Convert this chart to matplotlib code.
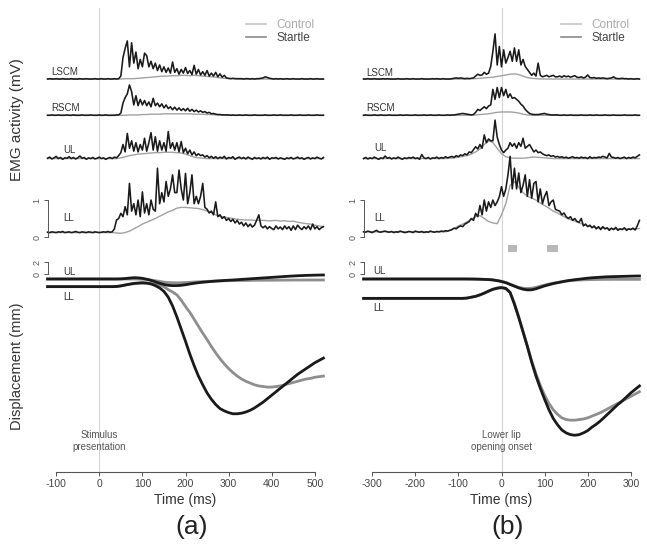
import numpy as np
import matplotlib.pyplot as plt
from matplotlib.lines import Line2D
from matplotlib.patches import Rectangle

plt.rcParams['font.family'] = ['Liberation Sans', 'DejaVu Sans']
plt.rcParams['axes.unicode_minus'] = False

# ---------------- time grids (ms) ----------------
t_emg_a = np.arange(-120, 521, 5)      # startle EMG, panel (a)
t_ctl_a = np.arange(-120, 521, 10)     # control EMG + displacement, panel (a)
t_emg_b = np.arange(-320, 321, 5)
t_ctl_b = np.arange(-320, 321, 10)

# ---------------- EMG (mV), panel (a): aligned to stimulus ----------------
lscm_startle_a = [
    0.02, 0.03, 0.02, 0.02, 0.03, 0.02, 0.02, 0.03, 0.02, 0.02,
    0.02, 0.03, 0.02, 0.02, 0.02, 0.03, 0.02, 0.02, 0.03, 0.02,
    0.02, 0.02, 0.03, 0.02, 0.02, 0.03, 0.02, 0.02, 0.03, 0.02,
    0.02, 0.03, 0.02, 0.03, 0.10, 0.60, 0.85, 1.05, 0.35, 1.00,
    0.45, 0.75, 0.30, 0.55, 0.35, 0.72, 0.65, 0.35, 0.50, 0.30,
    0.45, 0.25, 0.40, 0.22, 0.35, 0.20, 0.32, 0.18, 0.48, 0.20,
    0.30, 0.15, 0.28, 0.18, 0.33, 0.17, 0.25, 0.14, 0.39, 0.15,
    0.28, 0.13, 0.22, 0.12, 0.25, 0.10, 0.18, 0.10, 0.20, 0.08,
    0.16, 0.07, 0.12, 0.05, 0.04, 0.03, 0.04, 0.03, 0.03, 0.03,
    0.03, 0.02, 0.03, 0.03, 0.02, 0.03, 0.02, 0.03, 0.03, 0.04,
    0.05, 0.08, 0.06, 0.04, 0.03, 0.02, 0.03, 0.02, 0.03, 0.02,
    0.02, 0.03, 0.02, 0.02, 0.03, 0.02, 0.02, 0.02, 0.03, 0.02,
    0.02, 0.02, 0.03, 0.02, 0.02, 0.03, 0.02, 0.02, 0.02]
lscm_control_a = [
    0.02, 0.02, 0.02, 0.02, 0.02, 0.02, 0.02, 0.02, 0.02, 0.02,
    0.02, 0.02, 0.02, 0.02, 0.02, 0.02, 0.02, 0.02, 0.03, 0.03,
    0.03, 0.04, 0.05, 0.06, 0.07, 0.08, 0.09, 0.10, 0.10, 0.11,
    0.11, 0.12, 0.12, 0.11, 0.12, 0.11, 0.10, 0.09, 0.08, 0.07,
    0.05, 0.04, 0.03, 0.03, 0.02, 0.02, 0.02, 0.02, 0.02, 0.02,
    0.02, 0.02, 0.02, 0.02, 0.02, 0.02, 0.02, 0.02, 0.02, 0.02,
    0.02, 0.02, 0.02, 0.02, 0.02]
rscm_startle_a = [
    0.02, 0.02, 0.03, 0.02, 0.02, 0.03, 0.02, 0.02, 0.02, 0.03,
    0.02, 0.02, 0.03, 0.02, 0.02, 0.02, 0.03, 0.02, 0.02, 0.02,
    0.03, 0.02, 0.02, 0.02, 0.03, 0.02, 0.02, 0.03, 0.02, 0.02,
    0.02, 0.02, 0.03, 0.03, 0.08, 0.35, 0.50, 0.60, 0.84, 0.66,
    0.30, 0.55, 0.28, 0.45, 0.30, 0.42, 0.28, 0.38, 0.25, 0.48,
    0.28, 0.35, 0.25, 0.33, 0.22, 0.30, 0.20, 0.25, 0.17, 0.24,
    0.16, 0.22, 0.15, 0.20, 0.14, 0.21, 0.13, 0.18, 0.12, 0.16,
    0.11, 0.14, 0.10, 0.12, 0.08, 0.10, 0.06, 0.07, 0.05, 0.04,
    0.04, 0.03, 0.03, 0.03, 0.03, 0.02, 0.03, 0.02, 0.02, 0.03,
    0.02, 0.02, 0.03, 0.02, 0.02, 0.02, 0.03, 0.02, 0.02, 0.02,
    0.02, 0.03, 0.02, 0.02, 0.02, 0.03, 0.02, 0.02, 0.03, 0.02,
    0.02, 0.02, 0.02, 0.03, 0.02, 0.02, 0.02, 0.03, 0.02, 0.02,
    0.02, 0.03, 0.02, 0.02, 0.02, 0.03, 0.02, 0.02, 0.02]
rscm_control_a = [
    0.02, 0.02, 0.02, 0.02, 0.02, 0.02, 0.02, 0.02, 0.02, 0.02,
    0.02, 0.02, 0.02, 0.02, 0.02, 0.02, 0.02, 0.02, 0.02, 0.03,
    0.03, 0.03, 0.04, 0.04, 0.05, 0.05, 0.05, 0.06, 0.06, 0.06,
    0.06, 0.06, 0.06, 0.06, 0.05, 0.05, 0.05, 0.04, 0.04, 0.03,
    0.03, 0.03, 0.02, 0.02, 0.02, 0.02, 0.02, 0.02, 0.02, 0.02,
    0.02, 0.02, 0.02, 0.02, 0.02, 0.02, 0.02, 0.02, 0.02, 0.02,
    0.02, 0.02, 0.02, 0.02, 0.02]
ul_startle_a = [
    0.03, 0.06, 0.01, 0.04, 0.08, 0.02, 0.05, 0.00, 0.04, 0.03,
    0.07, 0.02, 0.05, 0.01, 0.04, 0.09, 0.03, 0.05, 0.00, 0.04,
    0.02, 0.05, 0.01, 0.03, 0.06, 0.02, 0.04, 0.00, 0.03, 0.05,
    0.02, 0.06, 0.04, 0.10, 0.18, 0.40, 0.20, 0.70, 0.30, 0.50,
    0.22, 0.45, 0.20, 0.40, 0.25, 0.57, 0.22, 0.45, 0.72, 0.25,
    0.61, 0.22, 0.50, 0.25, 0.45, 0.22, 0.75, 0.30, 0.45, 0.25,
    0.45, 0.20, 0.48, 0.18, 0.30, 0.15, 0.25, 0.12, 0.20, 0.10,
    0.15, 0.10, 0.12, 0.06, 0.10, 0.04, 0.08, 0.03, 0.07, 0.02,
    0.06, 0.03, 0.08, 0.01, 0.05, 0.03, 0.07, 0.00, 0.04, 0.06,
    0.02, 0.05, 0.01, 0.06, 0.03, 0.00, 0.05, 0.02, 0.04, 0.01,
    0.05, 0.02, 0.06, 0.00, 0.04, 0.03, 0.05, 0.01, 0.04, 0.02,
    0.00, 0.04, 0.02, 0.05, 0.01, 0.03, 0.06, 0.02, 0.04, 0.00,
    0.03, 0.05, 0.01, 0.04, 0.02, 0.06, 0.03, 0.01, 0.05]
ul_control_a = [
    0.02, 0.02, 0.02, 0.02, 0.02, 0.02, 0.02, 0.02, 0.02, 0.02,
    0.02, 0.02, 0.02, 0.02, 0.02, 0.02, 0.02, 0.04, 0.07, 0.10,
    0.12, 0.14, 0.15, 0.16, 0.17, 0.18, 0.18, 0.19, 0.19, 0.19,
    0.18, 0.17, 0.14, 0.10, 0.06, 0.04, 0.03, 0.02, 0.02, 0.02,
    0.02, 0.02, 0.02, 0.02, 0.02, 0.02, 0.02, 0.02, 0.02, 0.02,
    0.02, 0.02, 0.02, 0.02, 0.02, 0.02, 0.02, 0.02, 0.02, 0.02,
    0.02, 0.02, 0.02, 0.02, 0.02]
ll_startle_a = [
    0.13, 0.12, 0.14, 0.13, 0.12, 0.14, 0.13, 0.15, 0.12, 0.13,
    0.14, 0.12, 0.13, 0.15, 0.13, 0.12, 0.14, 0.13, 0.12, 0.14,
    0.13, 0.12, 0.14, 0.13, 0.12, 0.13, 0.14, 0.13, 0.15, 0.13,
    0.14, 0.22, 0.46, 0.50, 0.64, 0.55, 0.82, 0.60, 1.45, 0.70,
    0.90, 0.60, 1.00, 0.55, 1.22, 0.65, 0.90, 0.60, 1.00, 0.75,
    0.70, 1.86, 0.90, 1.20, 0.95, 1.50, 1.10, 1.30, 1.68, 1.20,
    1.20, 1.81, 1.30, 1.00, 1.72, 0.90, 1.20, 1.68, 0.90, 1.10,
    0.90, 1.10, 1.45, 0.80, 0.75, 0.65, 0.70, 0.60, 0.95, 0.55,
    0.60, 0.50, 0.55, 0.45, 0.50, 0.42, 0.48, 0.38, 0.45, 0.35,
    0.40, 0.30, 0.38, 0.28, 0.35, 0.27, 0.32, 0.45, 0.60, 0.30,
    0.25, 0.30, 0.22, 0.28, 0.23, 0.20, 0.30, 0.22, 0.27, 0.20,
    0.30, 0.22, 0.28, 0.18, 0.30, 0.20, 0.32, 0.25, 0.20, 0.28,
    0.22, 0.30, 0.20, 0.35, 0.22, 0.28, 0.20, 0.25, 0.28]
ll_control_a = [
    0.12, 0.12, 0.12, 0.12, 0.12, 0.12, 0.12, 0.12, 0.12, 0.12,
    0.12, 0.12, 0.12, 0.12, 0.12, 0.12, 0.11, 0.10, 0.12, 0.16,
    0.22, 0.28, 0.35, 0.40, 0.45, 0.50, 0.56, 0.62, 0.68, 0.72,
    0.78, 0.80, 0.80, 0.79, 0.78, 0.77, 0.74, 0.70, 0.66, 0.60,
    0.56, 0.54, 0.52, 0.50, 0.48, 0.47, 0.46, 0.46, 0.45, 0.45,
    0.45, 0.44, 0.44, 0.45, 0.43, 0.44, 0.42, 0.43, 0.40, 0.38,
    0.36, 0.35, 0.32, 0.30, 0.28]

# ---------------- EMG (mV), panel (b): aligned to lower lip opening ----------------
lscm_startle_b = [
    0.02, 0.02, 0.03, 0.02, 0.02, 0.03, 0.02, 0.02, 0.02, 0.03,
    0.02, 0.03, 0.02, 0.02, 0.02, 0.02, 0.03, 0.02, 0.02, 0.02,
    0.03, 0.02, 0.02, 0.03, 0.02, 0.02, 0.02, 0.03, 0.02, 0.02,
    0.02, 0.02, 0.03, 0.02, 0.03, 0.02, 0.02, 0.03, 0.02, 0.02,
    0.02, 0.03, 0.04, 0.05, 0.04, 0.05, 0.04, 0.03, 0.04, 0.03,
    0.04, 0.05, 0.10, 0.15, 0.12, 0.13, 0.20, 0.15, 0.18, 0.36,
    0.77, 1.24, 0.40, 0.90, 0.35, 0.81, 0.45, 0.60, 0.77, 0.50,
    0.86, 0.50, 0.81, 0.40, 0.55, 0.36, 0.28, 0.20, 0.12, 0.18,
    0.10, 0.45, 0.12, 0.08, 0.10, 0.12, 0.08, 0.10, 0.12, 0.08,
    0.08, 0.10, 0.07, 0.11, 0.08, 0.10, 0.07, 0.09, 0.11, 0.07,
    0.06, 0.08, 0.05, 0.07, 0.13, 0.06, 0.05, 0.06, 0.04, 0.05,
    0.04, 0.05, 0.04, 0.03, 0.04, 0.05, 0.08, 0.04, 0.03, 0.03,
    0.04, 0.03, 0.03, 0.02, 0.03, 0.02, 0.02, 0.03, 0.02]
lscm_control_b = [
    0.02, 0.02, 0.02, 0.02, 0.02, 0.02, 0.02, 0.02, 0.02, 0.02,
    0.02, 0.02, 0.02, 0.02, 0.02, 0.02, 0.02, 0.02, 0.02, 0.02,
    0.02, 0.02, 0.02, 0.02, 0.02, 0.03, 0.03, 0.04, 0.05, 0.06,
    0.07, 0.09, 0.11, 0.13, 0.15, 0.16, 0.14, 0.10, 0.06, 0.04,
    0.03, 0.02, 0.02, 0.02, 0.02, 0.02, 0.02, 0.02, 0.02, 0.02,
    0.02, 0.02, 0.02, 0.02, 0.02, 0.02, 0.02, 0.02, 0.02, 0.02,
    0.02, 0.02, 0.02, 0.02, 0.02]
rscm_startle_b = [
    0.02, 0.03, 0.02, 0.02, 0.02, 0.03, 0.02, 0.02, 0.03, 0.02,
    0.02, 0.02, 0.03, 0.02, 0.02, 0.02, 0.02, 0.03, 0.02, 0.02,
    0.03, 0.02, 0.02, 0.02, 0.03, 0.02, 0.02, 0.02, 0.03, 0.02,
    0.02, 0.03, 0.02, 0.02, 0.02, 0.03, 0.02, 0.02, 0.02, 0.03,
    0.02, 0.03, 0.03, 0.04, 0.05, 0.06, 0.07, 0.06, 0.05, 0.04,
    0.03, 0.04, 0.10, 0.18, 0.15, 0.20, 0.25, 0.20, 0.27, 0.30,
    0.72, 0.45, 0.77, 0.50, 0.77, 0.55, 0.72, 0.50, 0.60, 0.48,
    0.50, 0.45, 0.40, 0.32, 0.27, 0.18, 0.12, 0.07, 0.05, 0.04,
    0.04, 0.04, 0.05, 0.06, 0.07, 0.05, 0.04, 0.03, 0.03, 0.03,
    0.03, 0.02, 0.02, 0.03, 0.02, 0.02, 0.03, 0.02, 0.02, 0.02,
    0.02, 0.03, 0.02, 0.02, 0.02, 0.03, 0.02, 0.02, 0.03, 0.02,
    0.02, 0.02, 0.03, 0.02, 0.02, 0.02, 0.03, 0.02, 0.02, 0.02,
    0.02, 0.03, 0.02, 0.02, 0.02, 0.02, 0.03, 0.02, 0.02]
rscm_control_b = [
    0.02, 0.02, 0.02, 0.02, 0.02, 0.02, 0.02, 0.02, 0.02, 0.02,
    0.02, 0.02, 0.02, 0.02, 0.02, 0.02, 0.02, 0.02, 0.02, 0.02,
    0.02, 0.02, 0.02, 0.02, 0.02, 0.03, 0.03, 0.04, 0.05, 0.06,
    0.08, 0.10, 0.11, 0.11, 0.11, 0.10, 0.08, 0.05, 0.03, 0.02,
    0.02, 0.02, 0.02, 0.02, 0.02, 0.02, 0.02, 0.02, 0.02, 0.02,
    0.02, 0.02, 0.02, 0.02, 0.02, 0.02, 0.02, 0.02, 0.02, 0.02,
    0.02, 0.02, 0.02, 0.02, 0.02]
ul_startle_b = [
    0.02, 0.05, 0.01, 0.04, 0.02, 0.06, 0.03, 0.00, 0.04, 0.02,
    0.09, 0.03, 0.05, 0.01, 0.04, 0.02, 0.06, 0.03, 0.00, 0.04,
    0.02, 0.05, 0.03, 0.06, 0.02, 0.04, 0.00, 0.13, 0.04, 0.02,
    0.05, 0.01, 0.04, 0.03, 0.06, 0.02, 0.05, 0.03, 0.07, 0.04,
    0.06, 0.08, 0.05, 0.10, 0.07, 0.12, 0.10, 0.15, 0.12, 0.20,
    0.18, 0.26, 0.34, 0.28, 0.40, 0.30, 0.66, 0.45, 0.55, 0.50,
    0.50, 1.06, 0.60, 0.40, 0.25, 0.18, 0.25, 0.30, 0.45, 0.35,
    0.43, 0.30, 0.45, 0.35, 0.57, 0.30, 0.35, 0.40, 0.30, 0.20,
    0.25, 0.18, 0.20, 0.15, 0.12, 0.10, 0.12, 0.08, 0.10, 0.06,
    0.08, 0.05, 0.07, 0.04, 0.06, 0.03, 0.05, 0.07, 0.04, 0.05,
    0.03, 0.06, 0.04, 0.05, 0.02, 0.07, 0.03, 0.05, 0.04, 0.06,
    0.05, 0.08, 0.06, 0.04, 0.16, 0.06, 0.05, 0.03, 0.05, 0.02,
    0.04, 0.06, 0.02, 0.05, 0.03, 0.06, 0.04, 0.08, 0.12]
ul_control_b = [
    0.02, 0.02, 0.02, 0.02, 0.02, 0.02, 0.02, 0.02, 0.02, 0.02,
    0.02, 0.02, 0.02, 0.02, 0.02, 0.02, 0.02, 0.02, 0.02, 0.02,
    0.03, 0.04, 0.06, 0.08, 0.10, 0.14, 0.20, 0.28, 0.40, 0.50,
    0.45, 0.30, 0.15, 0.07, 0.04, 0.03, 0.03, 0.03, 0.04, 0.06,
    0.06, 0.05, 0.04, 0.03, 0.02, 0.02, 0.02, 0.02, 0.02, 0.02,
    0.02, 0.02, 0.02, 0.02, 0.02, 0.02, 0.02, 0.02, 0.02, 0.02,
    0.02, 0.02, 0.02, 0.02, 0.02]
ll_startle_b = [
    0.14, 0.13, 0.16, 0.14, 0.12, 0.15, 0.18, 0.14, 0.13, 0.15,
    0.16, 0.14, 0.13, 0.15, 0.12, 0.14, 0.13, 0.16, 0.14, 0.12,
    0.13, 0.15, 0.14, 0.12, 0.16, 0.14, 0.13, 0.15, 0.12, 0.14,
    0.13, 0.16, 0.14, 0.13, 0.15, 0.14, 0.16, 0.15, 0.17, 0.16,
    0.18, 0.20, 0.24, 0.22, 0.27, 0.30, 0.28, 0.35, 0.38, 0.42,
    0.50, 0.45, 0.64, 0.55, 0.85, 0.60, 1.00, 0.70, 0.95, 0.80,
    1.00, 0.85, 0.95, 1.09, 1.36, 1.10, 1.30, 1.68, 2.18, 1.30,
    1.86, 1.30, 1.73, 1.20, 1.40, 1.68, 1.10, 1.55, 1.05, 1.45,
    1.50, 0.95, 1.30, 0.90, 1.10, 1.23, 0.85, 0.95, 1.00, 0.75,
    0.72, 0.70, 0.60, 0.65, 0.55, 0.50, 0.55, 0.45, 0.50, 0.42,
    0.40, 0.50, 0.30, 0.35, 0.28, 0.32, 0.25, 0.30, 0.22, 0.28,
    0.20, 0.28, 0.22, 0.25, 0.18, 0.24, 0.20, 0.26, 0.18, 0.22,
    0.20, 0.25, 0.18, 0.22, 0.20, 0.24, 0.19, 0.30, 0.45]
ll_control_b = [
    0.14, 0.14, 0.14, 0.14, 0.14, 0.14, 0.14, 0.14, 0.14, 0.14,
    0.14, 0.14, 0.14, 0.14, 0.14, 0.14, 0.14, 0.14, 0.14, 0.14,
    0.18, 0.23, 0.30, 0.35, 0.41, 0.48, 0.55, 0.58, 0.50, 0.42,
    0.38, 0.36, 0.60, 0.90, 1.40, 1.50, 1.35, 1.20, 1.10, 1.05,
    1.00, 0.92, 0.85, 0.78, 0.70, 0.65, 0.58, 0.52, 0.47, 0.43,
    0.38, 0.34, 0.30, 0.27, 0.25, 0.24, 0.23, 0.23, 0.22, 0.22,
    0.22, 0.22, 0.22, 0.22, 0.23]

# ---------------- lip displacement (mm) ----------------
ul_disp_startle_a = [
    -0.86, -0.86, -0.86, -0.86, -0.86, -0.86, -0.86, -0.86, -0.86, -0.86,
    -0.86, -0.86, -0.86, -0.86, -0.86, -0.86, -0.86, -0.84, -0.78, -0.70,
    -0.64, -0.66, -0.75, -0.90, -1.10, -1.35, -1.60, -1.80, -1.95, -2.00,
    -2.00, -1.95, -1.85, -1.72, -1.60, -1.50, -1.42, -1.35, -1.28, -1.22,
    -1.17, -1.12, -1.07, -1.03, -0.98, -0.93, -0.88, -0.83, -0.78, -0.73,
    -0.68, -0.63, -0.58, -0.53, -0.48, -0.43, -0.38, -0.34, -0.30, -0.27,
    -0.24, -0.22, -0.20, -0.18, -0.17]
ul_disp_control_a = [
    -0.86, -0.86, -0.86, -0.86, -0.86, -0.86, -0.86, -0.86, -0.86, -0.86,
    -0.86, -0.86, -0.86, -0.86, -0.86, -0.86, -0.86, -0.86, -0.86, -0.86,
    -0.86, -0.87, -0.90, -0.95, -1.05, -1.15, -1.28, -1.40, -1.48, -1.50,
    -1.52, -1.50, -1.47, -1.43, -1.38, -1.34, -1.30, -1.27, -1.24, -1.21,
    -1.19, -1.17, -1.15, -1.14, -1.13, -1.12, -1.11, -1.10, -1.09, -1.08,
    -1.08, -1.07, -1.07, -1.06, -1.06, -1.05, -1.05, -1.04, -1.04, -1.04,
    -1.03, -1.03, -1.03, -1.03, -1.03]
ll_disp_startle_a = [
    -2.18, -2.18, -2.18, -2.18, -2.18, -2.18, -2.18, -2.18, -2.18, -2.18,
    -2.18, -2.18, -2.18, -2.18, -2.18, -2.18, -2.15, -2.05, -1.90, -1.75,
    -1.62, -1.55, -1.50, -1.55, -1.70, -2.00, -2.40, -3.00, -4.00, -5.50,
    -7.40, -9.50, -11.6, -13.8, -15.8, -17.6, -19.1, -20.5, -21.6, -22.5,
    -23.2, -23.6, -23.9, -24.1, -24.1, -24.0, -23.8, -23.5, -23.1, -22.6,
    -22.1, -21.5, -20.9, -20.3, -19.7, -19.1, -18.5, -17.9, -17.3, -16.8,
    -16.3, -15.8, -15.3, -14.9, -14.5]
ll_disp_control_a = [
    -2.18, -2.18, -2.18, -2.18, -2.18, -2.18, -2.18, -2.18, -2.18, -2.18,
    -2.18, -2.18, -2.18, -2.18, -2.18, -2.18, -2.15, -2.05, -1.90, -1.78,
    -1.68, -1.62, -1.60, -1.62, -1.70, -1.80, -1.90, -2.20, -2.70, -3.10,
    -3.60, -4.50, -5.60, -6.60, -7.80, -9.00, -10.2, -11.3, -12.5, -13.6,
    -14.6, -15.5, -16.3, -17.0, -17.6, -18.1, -18.5, -18.8, -19.1, -19.3,
    -19.4, -19.5, -19.5, -19.4, -19.3, -19.1, -18.9, -18.7, -18.5, -18.3,
    -18.1, -18.0, -17.8, -17.7, -17.6]
ul_disp_startle_b = [
    -0.86, -0.86, -0.86, -0.86, -0.86, -0.86, -0.86, -0.86, -0.86, -0.86,
    -0.86, -0.86, -0.86, -0.86, -0.86, -0.86, -0.86, -0.86, -0.86, -0.86,
    -0.86, -0.86, -0.86, -0.86, -0.86, -0.87, -0.88, -0.90, -0.93, -0.96,
    -1.03, -1.15, -1.30, -1.50, -1.80, -2.10, -2.40, -2.62, -2.74, -2.72,
    -2.55, -2.30, -2.05, -1.85, -1.65, -1.50, -1.35, -1.20, -1.08, -0.98,
    -0.90, -0.80, -0.72, -0.65, -0.60, -0.55, -0.50, -0.47, -0.45, -0.43,
    -0.41, -0.39, -0.37, -0.35, -0.34]
ul_disp_control_b = [
    -0.86, -0.86, -0.86, -0.86, -0.86, -0.86, -0.86, -0.86, -0.86, -0.86,
    -0.86, -0.86, -0.86, -0.86, -0.86, -0.86, -0.86, -0.86, -0.86, -0.86,
    -0.86, -0.86, -0.86, -0.86, -0.86, -0.87, -0.88, -0.90, -0.92, -0.95,
    -1.00, -1.10, -1.25, -1.45, -1.75, -2.05, -2.30, -2.45, -2.50, -2.45,
    -2.30, -2.10, -1.90, -1.72, -1.58, -1.45, -1.33, -1.22, -1.14, -1.08,
    -1.04, -1.00, -0.98, -0.96, -0.95, -0.94, -0.93, -0.93, -0.92, -0.92,
    -0.92, -0.92, -0.92, -0.92, -0.92]
ll_disp_startle_b = [
    -4.20, -4.20, -4.20, -4.20, -4.20, -4.20, -4.20, -4.20, -4.20, -4.20,
    -4.20, -4.20, -4.20, -4.20, -4.20, -4.20, -4.20, -4.20, -4.20, -4.20,
    -4.20, -4.20, -4.20, -4.20, -4.15, -4.00, -3.85, -3.60, -3.30, -2.95,
    -2.65, -2.45, -2.36, -2.50, -3.20, -5.20, -7.50, -10.0, -12.5, -15.2,
    -17.6, -19.7, -21.6, -23.4, -24.9, -26.0, -26.9, -27.4, -27.7, -27.8,
    -27.7, -27.4, -27.0, -26.4, -25.9, -25.3, -24.6, -23.9, -23.2, -22.5,
    -21.9, -21.2, -20.5, -19.9, -19.3]
ll_disp_control_b = [
    -4.20, -4.20, -4.20, -4.20, -4.20, -4.20, -4.20, -4.20, -4.20, -4.20,
    -4.20, -4.20, -4.20, -4.20, -4.20, -4.20, -4.20, -4.20, -4.20, -4.20,
    -4.20, -4.20, -4.20, -4.20, -4.15, -4.00, -3.85, -3.60, -3.30, -2.95,
    -2.60, -2.40, -2.30, -2.45, -3.15, -5.10, -7.40, -9.90, -12.4, -15.0,
    -17.2, -19.2, -20.9, -22.3, -23.4, -24.2, -24.8, -25.1, -25.2, -25.2,
    -25.1, -25.0, -24.8, -24.5, -24.2, -23.9, -23.5, -23.1, -22.7, -22.3,
    -21.9, -21.5, -21.1, -20.7, -20.3]

# grey markers under panel (b) EMG (ms)
marker_start_b = [15, 106]
marker_end_b = [36, 130]

muscles = ["LSCM", "RSCM", "UL", "LL"]
emg_offsets = [4.25, 3.27, 2.10, 0.0]      # stacking offsets in mV

BLACK = "#1a1a1a"
GREY = "#a2a2a2"
GREY_D = "#8e8e8e"
TXT = "#333333"

W, H = 647, 551
fig = plt.figure(figsize=(W / 100, H / 100), dpi=100)


def rect(x0, ytop, x1, ybot):
    return [x0 / W, 1 - ybot / H, (x1 - x0) / W, (ybot - ytop) / H]


def scale_bar(ax, x, top, label):
    ax.spines["left"].set_position(("data", x))
    ax.spines["left"].set_bounds(0, top)
    ax.spines["left"].set_color("#555555")
    ax.spines["left"].set_linewidth(0.7)
    ax.set_yticks([0, top])
    ax.set_yticklabels(["0", label], rotation=90, va="center")
    ax.tick_params(axis="y", length=3, width=0.7, colors="#555555",
                   labelsize=6.5, pad=1.5)


def draw_panel(p):
    ax_e = fig.add_axes(rect(p["x0"], 8, p["x1"], 250))
    ax_d = fig.add_axes(rect(p["x0"], 250, p["x1"], 472))
    for ax in (ax_e, ax_d):
        ax.set_xlim(p["xlim"])
        ax.patch.set_alpha(0)
        for s in ("top", "right"):
            ax.spines[s].set_visible(False)
        ax.axvline(0, color="#d4d4d4", lw=0.8, zorder=0)

    # --- EMG stack ---
    ax_e.set_ylim(-0.351, 6.19)
    ax_e.spines["bottom"].set_visible(False)
    ax_e.set_xticks([])
    for name, off in zip(muscles, emg_offsets):
        ax_e.plot(p["t_ctl"], np.array(p["ctl"][name]) + off, color=GREY, lw=1.0)
        ax_e.plot(p["t_emg"], np.array(p["stl"][name]) + off, color=BLACK, lw=1.15)
    for name, (lx, ly) in zip(muscles, p["emg_lab"]):
        ax_e.text(lx, ly, name, fontsize=7, color=TXT, ha="left", va="center")
    scale_bar(ax_e, p["t_emg"][0], 1, "1")

    leg = ax_e.legend(handles=[Line2D([], [], color="#c4c4c4", lw=1.2),
                               Line2D([], [], color="#8a8a8a", lw=1.2)],
                      labels=["Control", "Startle"], frameon=False,
                      fontsize=8.5, handlelength=1.7, handletextpad=0.9,
                      labelspacing=0.1, borderpad=0, borderaxespad=0,
                      loc="upper left", bbox_to_anchor=p["leg"],
                      bbox_transform=fig.transFigure)
    leg.get_texts()[0].set_color("#aaaaaa")
    leg.get_texts()[1].set_color("#444444")

    for s, e in zip(p["mk_s"], p["mk_e"]):
        ax_e.add_patch(Rectangle((s, -0.41), e - s, 0.19, color="#b8b8b8",
                                 lw=0, clip_on=False))

    # --- displacement ---
    ax_d.set_ylim(-34.14, 4.14)
    ax_d.plot(p["t_ctl"], p["ul_c"], color=GREY_D, lw=2.0)
    ax_d.plot(p["t_ctl"], p["ll_c"], color=GREY_D, lw=2.0)
    ax_d.plot(p["t_ctl"], p["ul_s"], color=BLACK, lw=2.0)
    ax_d.plot(p["t_ctl"], p["ll_s"], color=BLACK, lw=2.0)
    for name, (lx, ly) in zip(["UL", "LL"], p["disp_lab"]):
        ax_d.text(lx, ly, name, fontsize=7, color=TXT, ha="left", va="center")
    scale_bar(ax_d, p["t_emg"][0], 2, "2")

    xt = p["xticks"]
    ax_d.spines["bottom"].set_bounds(xt[0], xt[-1])
    ax_d.spines["bottom"].set_color("#555555")
    ax_d.spines["bottom"].set_linewidth(0.8)
    ax_d.set_xticks(xt)
    ax_d.tick_params(axis="x", length=3, width=0.7, colors="#555555",
                     labelsize=7.5, pad=2)
    for lab in ax_d.get_xticklabels():
        lab.set_color("#444444")
    ax_d.set_xlabel("Time (ms)", fontsize=10, color=TXT, labelpad=3)
    ax_d.text(0, -28.8, p["event"], fontsize=7, color="#555555",
              ha="center", va="center", linespacing=1.15)
    fig.text(p["tag_x"] / W, 1 - 527 / H, p["tag"], fontsize=19,
             ha="center", va="center", color="#222222")


panel_a = dict(
    x0=45.4, x1=325.6, xlim=(-125, 525),
    t_emg=t_emg_a, t_ctl=t_ctl_a,
    stl=dict(LSCM=lscm_startle_a, RSCM=rscm_startle_a, UL=ul_startle_a, LL=ll_startle_a),
    ctl=dict(LSCM=lscm_control_a, RSCM=rscm_control_a, UL=ul_control_a, LL=ll_control_a),
    emg_lab=[(-112, 4.46), (-112, 3.49), (-84, 2.35), (-84, 0.51)],
    ul_s=ul_disp_startle_a, ul_c=ul_disp_control_a,
    ll_s=ll_disp_startle_a, ll_c=ll_disp_control_a,
    disp_lab=[(-84, 0.34), (-84, -3.97)],
    leg=(246 / W, 1 - 19 / H), mk_s=[], mk_e=[],
    xticks=list(range(-100, 501, 100)),
    event="Stimulus\npresentation", tag="(a)", tag_x=192)

panel_b = dict(
    x0=361.4, x1=641.6, xlim=(-325, 325),
    t_emg=t_emg_b, t_ctl=t_ctl_b,
    stl=dict(LSCM=lscm_startle_b, RSCM=rscm_startle_b, UL=ul_startle_b, LL=ll_startle_b),
    ctl=dict(LSCM=lscm_control_b, RSCM=rscm_control_b, UL=ul_control_b, LL=ll_control_b),
    emg_lab=[(-314, 4.44), (-314, 3.49), (-296, 2.40), (-296, 0.51)],
    ul_s=ul_disp_startle_b, ul_c=ul_disp_control_b,
    ll_s=ll_disp_startle_b, ll_c=ll_disp_control_b,
    disp_lab=[(-298, 0.57), (-298, -5.9)],
    leg=(561 / W, 1 - 19 / H), mk_s=marker_start_b, mk_e=marker_end_b,
    xticks=list(range(-300, 301, 100)),
    event="Lower lip\nopening onset", tag="(b)", tag_x=508)

draw_panel(panel_a)
draw_panel(panel_b)

fig.text(17 / W, 1 - 120 / H, "EMG activity (mV)", rotation=90, fontsize=11,
         ha="center", va="center", color=TXT)
fig.text(17 / W, 1 - 366 / H, "Displacement (mm)", rotation=90, fontsize=10.5,
         ha="center", va="center", color=TXT)

fig.savefig("out.png", dpi=100)
